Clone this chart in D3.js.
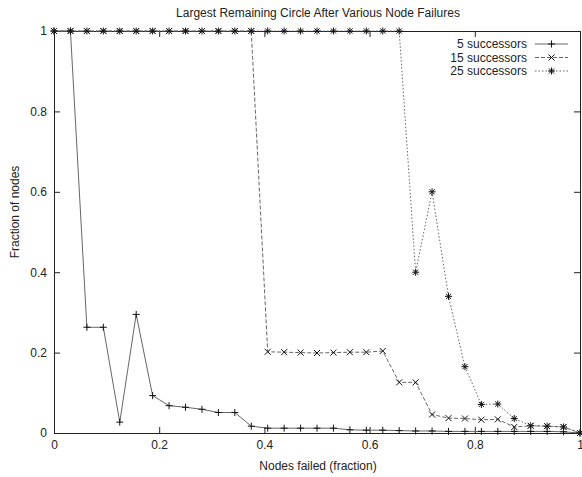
<!DOCTYPE html>
<html>
<head>
<meta charset="utf-8">
<script src="https://cdn.jsdelivr.net/npm/d3@7"></script>
<style>
  body { margin: 0; background: #fff; }
  svg { display: block; font-family: "Liberation Sans", Arial, sans-serif; }
</style>
</head>
<body>
<div id="container"></div>
<script>
// chart size and plot box
const width = 582;
const height = 477;
const marginTop = 31;
const marginRight = 2;
const marginBottom = 44;
const marginLeft = 54;

// data: fraction failed, 1/32 steps
const failed = d3.range(33).map(i => i / 32);
const succ5 = [1, 1, 0.263, 0.263, 0.027, 0.295, 0.093, 0.068, 0.064, 0.059, 0.051, 0.051,
  0.017, 0.012, 0.012, 0.012, 0.012, 0.012, 0.008, 0.007, 0.007, 0.006, 0.005, 0.005,
  0.004, 0.004, 0.004, 0.004, 0.004, 0.004, 0.004, 0.003, 0];
const succ15 = [1, 1, 1, 1, 1, 1, 1, 1, 1, 1, 1, 1, 1,
  0.202, 0.201, 0.2, 0.199, 0.2, 0.201, 0.201, 0.204, 0.126, 0.126,
  0.046, 0.037, 0.036, 0.033, 0.034, 0.015, 0.018, 0.017, 0.015, 0];
const succ25 = [1, 1, 1, 1, 1, 1, 1, 1, 1, 1, 1, 1, 1, 1, 1, 1, 1, 1, 1, 1, 1, 1,
  0.4, 0.6, 0.34, 0.165, 0.071, 0.072, 0.036, 0.018, 0.017, 0.015, 0];
const seriesNames = ["5 successors", "15 successors", "25 successors"];
const xTicks = [0, 0.2, 0.4, 0.6, 0.8, 1];
const yTicks = [0, 0.2, 0.4, 0.6, 0.8, 1];

const series = [
  { name: seriesNames[0], values: succ5, dash: null, mark: "plus" },
  { name: seriesNames[1], values: succ15, dash: "4,2", mark: "cross" },
  { name: seriesNames[2], values: succ25, dash: "1.5,2", mark: "star" }
];

const svg = d3.select("#container")
    .append("svg")
    .attr("width", width)
    .attr("height", height);

const x = d3.scaleLinear().domain([0, 1]).range([marginLeft, width - marginRight]);
const y = d3.scaleLinear().domain([0, 1]).range([height - marginBottom, marginTop]);

const fmt = d3.format("");
const textColor = "#222";

// bottom and top axes (ticks point inward)
svg.append("g")
    .attr("transform", `translate(0,${y(0)})`)
    .call(d3.axisBottom(x).tickValues(xTicks).tickFormat(fmt).tickSize(-6).tickSizeOuter(0).tickPadding(7));
svg.append("g")
    .attr("transform", `translate(0,${y(1)})`)
    .call(d3.axisTop(x).tickValues(xTicks).tickFormat("").tickSize(-6).tickSizeOuter(0));
// left and right axes
svg.append("g")
    .attr("transform", `translate(${x(0)},0)`)
    .call(d3.axisLeft(y).tickValues(yTicks).tickFormat(fmt).tickSize(-6).tickSizeOuter(0).tickPadding(7));
svg.append("g")
    .attr("transform", `translate(${x(1)},0)`)
    .call(d3.axisRight(y).tickValues(yTicks).tickFormat("").tickSize(-6).tickSizeOuter(0));

svg.selectAll(".domain").attr("stroke", "#222");
svg.selectAll(".tick line").attr("stroke", "#222");
svg.selectAll(".tick text")
    .attr("font-size", 12)
    .attr("fill", textColor)
    .attr("font-family", "Liberation Sans, Arial, sans-serif");

// titles
svg.append("text")
    .attr("x", 318)
    .attr("y", 17)
    .attr("text-anchor", "middle")
    .attr("font-size", 12)
    .attr("fill", textColor)
    .text("Largest Remaining Circle After Various Node Failures");

svg.append("text")
    .attr("x", 318)
    .attr("y", 470)
    .attr("text-anchor", "middle")
    .attr("font-size", 12)
    .attr("fill", textColor)
    .text("Nodes failed (fraction)");

svg.append("text")
    .attr("transform", "translate(19,212) rotate(-90)")
    .attr("text-anchor", "middle")
    .attr("font-size", 12)
    .attr("fill", textColor)
    .text("Fraction of nodes");

// marker shapes
function marker(g, type, cx, cy) {
    const s = 3.5;
    const lines = [];
    if (type === "plus" || type === "star") {
        lines.push([cx - s, cy, cx + s, cy], [cx, cy - s, cx, cy + s]);
    }
    if (type === "cross" || type === "star") {
        const t = type === "star" ? 2.6 : 3;
        lines.push([cx - t, cy - t, cx + t, cy + t], [cx - t, cy + t, cx + t, cy - t]);
    }
    lines.forEach(l => {
        g.append("line")
            .attr("x1", l[0]).attr("y1", l[1])
            .attr("x2", l[2]).attr("y2", l[3])
            .attr("stroke", "#111")
            .attr("stroke-width", 1);
    });
}

const line = d3.line()
    .x((d, i) => x(failed[i]))
    .y(d => y(d));

series.forEach(s => {
    const g = svg.append("g");
    g.append("path")
        .datum(s.values)
        .attr("d", line)
        .attr("fill", "none")
        .attr("stroke", "#666")
        .attr("stroke-width", 1)
        .attr("stroke-dasharray", s.dash);
    s.values.forEach((v, i) => marker(g, s.mark, x(failed[i]), y(v)));
});

// legend
const legendTop = 44;
series.forEach((s, i) => {
    const ly = legendTop + i * 13.5;
    svg.append("text")
        .attr("x", 527)
        .attr("y", ly)
        .attr("dy", "0.35em")
        .attr("text-anchor", "end")
        .attr("font-size", 12)
        .attr("fill", textColor)
        .text(s.name);
    svg.append("line")
        .attr("x1", 535).attr("x2", 568)
        .attr("y1", ly).attr("y2", ly)
        .attr("stroke", "#666")
        .attr("stroke-width", 1)
        .attr("stroke-dasharray", s.dash);
    marker(svg, s.mark, 551.5, ly);
});
</script>
</body>
</html>
